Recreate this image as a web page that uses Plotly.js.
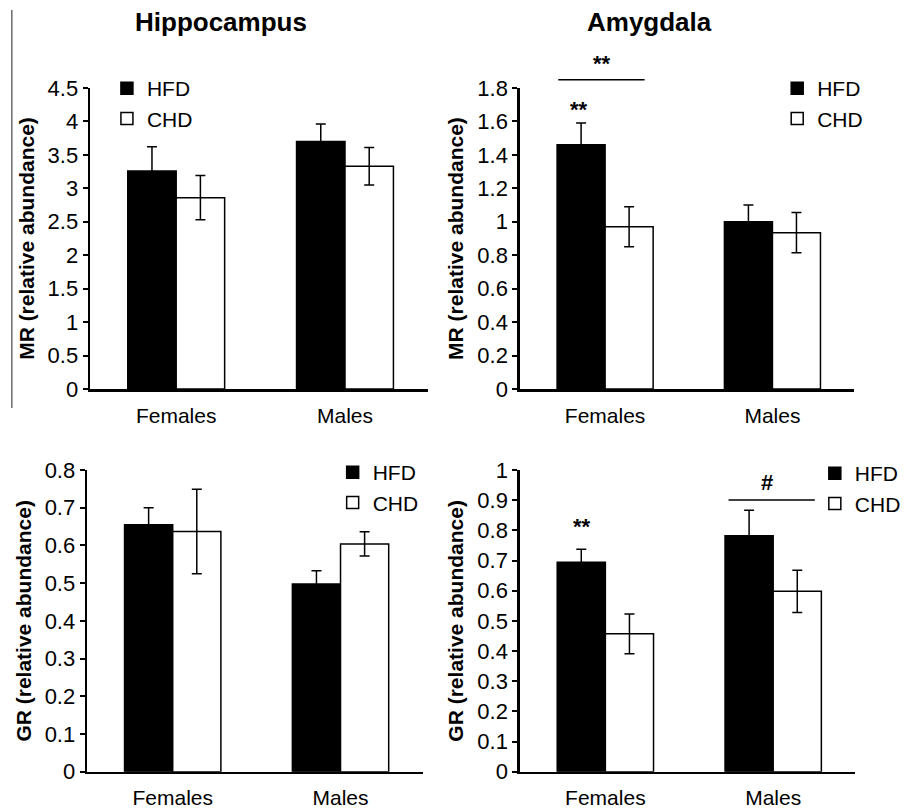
<!DOCTYPE html>
<html>
<head>
<meta charset="utf-8">
<script src="https://cdn.plot.ly/plotly-3.0.1.min.js"></script>
<style>html,body{margin:0;padding:0;background:#fff;}#chart{width:906px;height:810px;}</style>
</head>
<body>
<div id="chart"></div>
<script>
// ---- data ----
const categories = ["Females", "Males"];
const seriesNames = ["HFD", "CHD"];

const hipMR_HFD = [3.26, 3.70];
const hipMR_HFD_err = [0.36, 0.26];
const hipMR_CHD = [2.86, 3.33];
const hipMR_CHD_err = [0.33, 0.28];

const amyMR_HFD = [1.46, 1.00];
const amyMR_HFD_err = [0.13, 0.10];
const amyMR_CHD = [0.97, 0.935];
const amyMR_CHD_err = [0.12, 0.12];

const hipGR_HFD = [0.655, 0.498];
const hipGR_HFD_err = [0.045, 0.035];
const hipGR_CHD = [0.637, 0.604];
const hipGR_CHD_err = [0.112, 0.032];

const amyGR_HFD = [0.694, 0.782];
const amyGR_HFD_err = [0.043, 0.085];
const amyGR_CHD = [0.457, 0.598];
const amyGR_CHD_err = [0.066, 0.070];

const panelTitles = ["Hippocampus", "Amygdala"];
const yTitles = ["MR (relative abundance)", "GR (relative abundance)"];

// ---- build ----
const FONT = "Arial, 'Liberation Sans', sans-serif";
const W = 906, H = 810;
const px = v => v / W;
const py = v => (H - v) / H;

function bar(name, y, err, xa, ya, leg, fill) {
  return {
    type: "bar", name: name, x: categories, y: y,
    xaxis: xa, yaxis: ya, legend: leg, showlegend: true,
    marker: {color: fill, line: {color: "#000", width: 1.5}},
    error_y: {type: "data", array: err, visible: true, color: "#000", thickness: 1.5, width: 5}
  };
}

const data = [
  bar(seriesNames[0], hipMR_HFD, hipMR_HFD_err, "x", "y", "legend", "#000"),
  bar(seriesNames[1], hipMR_CHD, hipMR_CHD_err, "x", "y", "legend", "#fff"),
  bar(seriesNames[0], amyMR_HFD, amyMR_HFD_err, "x2", "y2", "legend2", "#000"),
  bar(seriesNames[1], amyMR_CHD, amyMR_CHD_err, "x2", "y2", "legend2", "#fff"),
  bar(seriesNames[0], hipGR_HFD, hipGR_HFD_err, "x3", "y3", "legend3", "#000"),
  bar(seriesNames[1], hipGR_CHD, hipGR_CHD_err, "x3", "y3", "legend3", "#fff"),
  bar(seriesNames[0], amyGR_HFD, amyGR_HFD_err, "x4", "y4", "legend4", "#000"),
  bar(seriesNames[1], amyGR_CHD, amyGR_CHD_err, "x4", "y4", "legend4", "#fff")
];

function xax(d0, d1, anchor) {
  return {
    domain: [px(d0), px(d1)], anchor: anchor, type: "category",
    range: [-0.51, 1.49], showgrid: false, zeroline: false,
    showline: true, linecolor: "#000", linewidth: 2.5,
    ticks: "", ticklabelstandoff: 6,
    tickfont: {family: FONT, size: 21, color: "#000"}, fixedrange: true
  };
}
function yax(top, bottom, anchor, max, dtick, title) {
  return {
    domain: [py(bottom), py(top)], anchor: anchor,
    range: [0, max], dtick: dtick, tick0: 0,
    showgrid: false, zeroline: false,
    showline: true, linecolor: "#000", linewidth: 2.5,
    ticks: "outside", ticklen: 5, tickwidth: 2, tickcolor: "#000",
    tickfont: {family: FONT, size: 22, color: "#000"},
    title: {text: title, standoff: 8, font: {family: FONT, size: 21, color: "#000", weight: "bold"}},
    fixedrange: true
  };
}
function leg(xpx, ypx) {
  return {
    x: px(xpx), y: py(ypx), xanchor: "left", yanchor: "top",
    bgcolor: "rgba(0,0,0,0)", borderwidth: 0, tracegroupgap: 0,
    font: {family: FONT, size: 21, color: "#000"}, traceorder: "normal"
  };
}

const boldFont = {family: FONT, size: 22, color: "#000", weight: "bold"};

const layout = {
  width: W, height: H,
  margin: {l: 0, r: 0, t: 0, b: 0},
  paper_bgcolor: "#fff", plot_bgcolor: "#fff",
  barmode: "group", bargap: 0.426, bargroupgap: 0,
  font: {family: FONT, color: "#000"},
  xaxis: xax(91, 432, "y"),
  yaxis: yax(88, 389, "x", 4.5, 0.5, yTitles[0]),
  xaxis2: xax(525, 863, "y2"),
  yaxis2: yax(88, 389, "x2", 1.8, 0.2, yTitles[0]),
  xaxis3: xax(88, 427, "y3"),
  yaxis3: yax(470, 771.7, "x3", 0.8, 0.1, yTitles[1]),
  xaxis4: xax(525, 864, "y4"),
  yaxis4: yax(470, 771.7, "x4", 1.0, 0.1, yTitles[1]),
  legend: leg(108, 68),
  legend2: leg(785, 68),
  legend3: leg(336, 452),
  legend4: leg(823, 453),
  annotations: [
    {text: panelTitles[0], xref: "paper", yref: "paper", x: px(223), y: py(22), xanchor: "center", yanchor: "middle", showarrow: false, font: {family: FONT, size: 26, color: "#000", weight: "bold"}},
    {text: panelTitles[1], xref: "paper", yref: "paper", x: px(656), y: py(22), xanchor: "center", yanchor: "middle", showarrow: false, font: {family: FONT, size: 26, color: "#000", weight: "bold"}},
    {text: "**", xref: "x2 domain", yref: "y2 domain", x: 0.246, y: 1.083, xanchor: "center", yanchor: "middle", showarrow: false, font: boldFont},
    {text: "**", xref: "x2 domain", yref: "y2 domain", x: 0.178, y: 0.930, xanchor: "center", yanchor: "middle", showarrow: false, font: boldFont},
    {text: "**", xref: "x4 domain", yref: "y4 domain", x: 0.186, y: 0.814, xanchor: "center", yanchor: "middle", showarrow: false, font: boldFont},
    {text: "#", xref: "x4 domain", yref: "y4 domain", x: 0.737, y: 0.957, xanchor: "center", yanchor: "middle", showarrow: false, font: boldFont}
  ],
  shapes: [
    {type: "line", xref: "x2 domain", yref: "y2 domain", x0: 0.115, x1: 0.373, y0: 1.027, y1: 1.027, line: {color: "#000", width: 1.5}},
    {type: "line", xref: "x4 domain", yref: "y4 domain", x0: 0.622, x1: 0.879, y0: 0.9006, y1: 0.9006, line: {color: "#000", width: 1.5}},
    {type: "line", xref: "paper", yref: "paper", x0: px(12), x1: px(12), y0: py(408), y1: py(10), line: {color: "#222", width: 1}}
  ]
};

Plotly.newPlot("chart", data, layout, {staticPlot: true, displayModeBar: false});
</script>
</body>
</html>
